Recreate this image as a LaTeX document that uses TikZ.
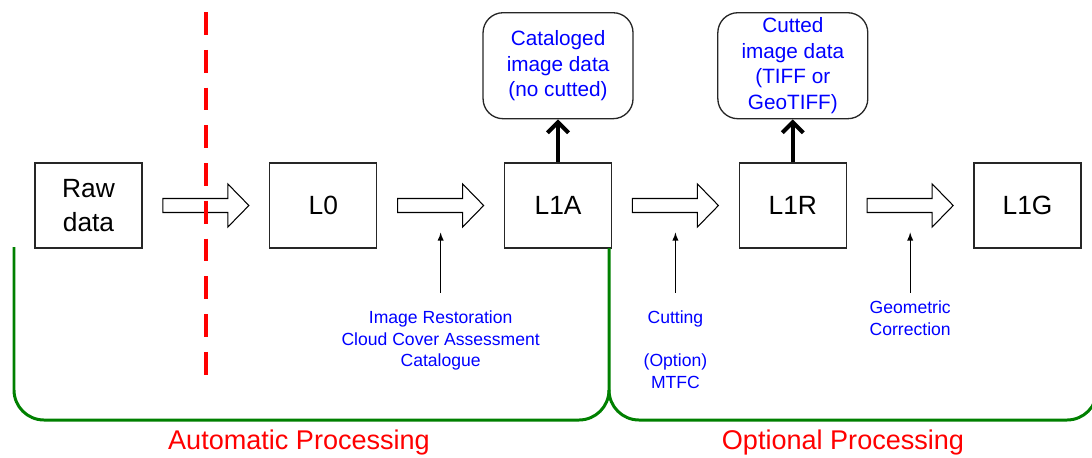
\documentclass[tikz,border=0pt]{standalone}
\usepackage{fontspec}
\setmainfont{Liberation Sans}
\usepackage{tikz}
\usetikzlibrary{arrows,arrows.meta,calc,positioning}
\definecolor{note-blue}{RGB}{0,0,255}
\definecolor{brace-green}{RGB}{0,128,0}
\tikzstyle{level}=[draw=black!85, line width=0.75pt, minimum width=2.14cm, minimum height=1.7cm, inner sep=0pt, align=center, font=\fontsize{15}{19}\selectfont]
\tikzstyle{product}=[draw=black!85, line width=0.75pt, rounded corners=0.4cm, minimum width=3cm, minimum height=2.12cm, inner sep=0pt, align=center, text=note-blue, font=\fontsize{11.8}{14.5}\selectfont]
\tikzstyle{note}=[align=center, inner sep=0pt, text=note-blue, font=\fontsize{10}{12.3}\selectfont]
\tikzstyle{hollow}=[draw=black, line width=0.6pt, fill=white]
\tikzstyle{pointer}=[-latex, line width=0.6pt]
\tikzstyle{lift}=[line width=2.3pt, -{Straight Barb[length=6pt,width=12pt]}]
\tikzstyle{bracket}=[draw=brace-green, line width=1.7pt, rounded corners=0.6cm]
\tikzstyle{cutline}=[draw=red, line width=2.3pt, dash pattern=on 13pt off 8.5pt]
\tikzstyle{stage}=[text=red, font=\fontsize{15.4}{18}\selectfont]
\newcommand{\fatArrow}[3]{
	\coordinate (#3) at ($(#1.east)!0.5!(#2.west)$);
	\draw[hollow] ($(#3)+(-43,-7)$) -- ++(65,0) -- ++(0,-14.5) -- ++(21,21.5) -- ++(-21,21.5) -- ++(0,-14.5) -- ++(-65,0) -- cycle;
}

\begin{document}
\begin{tikzpicture}[x=0.02cm, y=-0.02cm, node distance=2.53cm]
	\useasboundingbox (0,0) rectangle (1092,457);
	\clip (0,0) rectangle (1092,457);
	% processing levels
	\node[level] (raw) at (88.5,205.5) {Raw\\data};
	\node[level, right=of raw] (l0) {L0};
	\node[level, right=of l0] (l1a) {L1A};
	\node[level, right=of l1a] (l1r) {L1R};
	\node[level, right=of l1r] (l1g) {L1G};
	% products
	\node[product, above=0.86cm of l1a] (catalog) {Cataloged\\image data\\(no cutted)};
	\node[product, above=0.86cm of l1r] (cutimg) {Cutted\\image data\\(TIFF or\\GeoTIFF)};
	\draw[lift] (l1a) -- (catalog);
	\draw[lift] (l1r) -- (cutimg);
	% steps
	\fatArrow{raw}{l0}{m1}
	\fatArrow{l0}{l1a}{m2}
	\fatArrow{l1a}{l1r}{m3}
	\fatArrow{l1r}{l1g}{m4}
	\node[note, anchor=north] (restore) at ($(m2)+(0,105)$) {Image Restoration\\Cloud Cover Assessment\\Catalogue};
	\node[note, anchor=north] (cutting) at ($(m3)+(0,105)$) {Cutting\\~\\(Option)\\MTFC};
	\node[note, anchor=north] (geocorr) at ($(m4)+(0,95)$) {Geometric\\Correction};
	\draw[pointer] ($(restore.north)+(0,-18)$) -- ($(m2)+(0,27)$);
	\draw[pointer] ($(cutting.north)+(0,-18)$) -- ($(m3)+(0,27)$);
	\draw[pointer] ($(geocorr.north)+(0,-8)$) -- ($(m4)+(0,27)$);
	\draw[cutline] ($(m1)+(0,-193.5)$) -- ($(m1)+(0,172.5)$);
	% ranges
	\draw[bracket] (14,247) -- (14,420) -- (609,420) -- (609,248);
	\draw[bracket] (609,390) -- (609,420) -- (1097,420) -- (1097,300);
	\node[stage] (autolbl) at (299,442) {Automatic Processing};
	\node[stage] (optlbl) at (843,442) {Optional Processing};
\end{tikzpicture}
\end{document}
